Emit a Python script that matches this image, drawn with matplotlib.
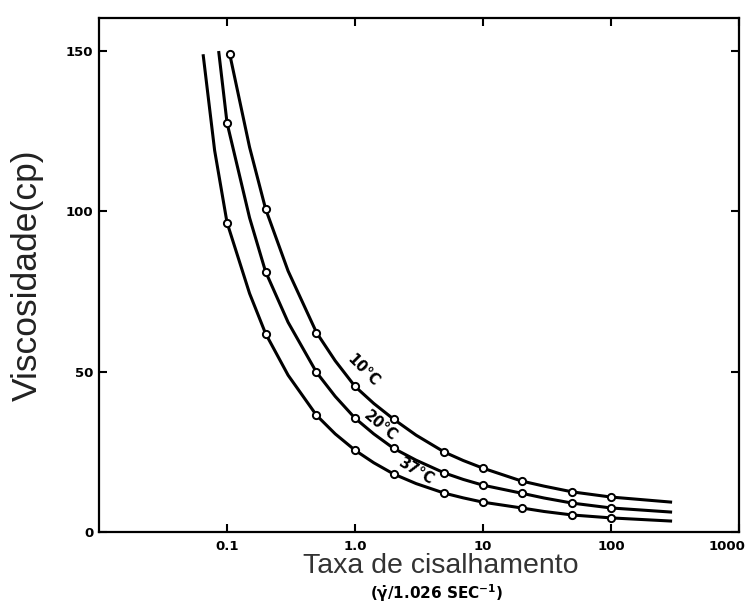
import matplotlib
matplotlib.use("Agg")
import matplotlib.pyplot as plt
from matplotlib.transforms import ScaledTranslation

# measured points (open circles)
pts_x_10 = [0.105, 0.2, 0.5, 1, 2, 5, 10, 20, 50, 100]
pts_y_10 = [149, 100.8, 62.2, 45.4, 35.2, 24.9, 19.9, 15.9, 12.5, 10.9]
pts_x_20 = [0.1, 0.2, 0.5, 1, 2, 5, 10, 20, 50, 100]
pts_y_20 = [127.6, 81.2, 49.8, 35.5, 26.1, 18.4, 14.6, 12.1, 9.0, 7.5]
pts_x_37 = [0.1, 0.2, 0.5, 1, 2, 5, 10, 20, 50, 100]
pts_y_37 = [96.5, 61.9, 36.4, 25.5, 18.1, 12.1, 9.3, 7.5, 5.3, 4.4]

# drawn curves
line_x_10 = [0.105, 0.15, 0.2, 0.3, 0.5, 0.7, 1, 1.4, 2, 3, 5, 7, 10, 20, 30, 50, 100, 300]
line_y_10 = [149, 120, 100.8, 81.4, 62.2, 53.4, 45.4, 40.1, 35.2, 30.2, 24.9, 22.3, 19.9, 15.9, 14.3, 12.5, 10.9, 9.3]
line_x_20 = [0.086, 0.1, 0.15, 0.2, 0.3, 0.5, 0.7, 1, 1.4, 2, 3, 5, 7, 10, 20, 30, 50, 100, 300]
line_y_20 = [150, 127.6, 98.0, 81.2, 65.4, 49.8, 42.3, 35.5, 30.6, 26.1, 22.4, 18.4, 16.4, 14.6, 12.1, 10.6, 9.0, 7.5, 6.2]
line_x_37 = [0.065, 0.08, 0.1, 0.15, 0.2, 0.3, 0.5, 0.7, 1, 1.4, 2, 3, 5, 7, 10, 20, 30, 50, 100, 300]
line_y_37 = [149, 119, 96.5, 74.4, 61.9, 48.9, 36.4, 30.6, 25.5, 21.6, 18.1, 15.1, 12.1, 10.65, 9.3, 7.5, 6.4, 5.3, 4.4, 3.4]

curve_labels = ["10°C", "20°C", "37°C"]
label_x = [1.16, 1.57, 3.0]
label_y = [50.4, 33.0, 19.0]
label_rot = [-45, -40, -31]

xticks = [0.1, 1, 10, 100, 1000]
xtick_labels = ["0.1", "1.0", "10", "100", "1000"]
yticks = [0, 50, 100, 150]

fig = plt.figure(figsize=(7.48, 6.06), dpi=100)
ax = fig.add_axes([0.1324, 0.1221, 0.8556, 0.8482])

for lx, ly, px, py in [(line_x_10, line_y_10, pts_x_10, pts_y_10),
                       (line_x_20, line_y_20, pts_x_20, pts_y_20),
                       (line_x_37, line_y_37, pts_x_37, pts_y_37)]:
    ax.plot(lx, ly, color="black", lw=2.2, solid_capstyle="butt")
    ax.plot(px, py, "o", ms=5.2, mfc="white", mec="black", mew=1.4)

for t, x, y, r in zip(curve_labels, label_x, label_y, label_rot):
    ax.text(x, y, t, rotation=r, ha="center", va="center",
            fontsize=10.5, fontweight="bold", rotation_mode="anchor")

ax.set_xscale("log")
ax.set_xlim(0.01, 1000)
ax.set_ylim(0, 160.3)
ax.set_xticks(xticks)
ax.set_xticklabels(xtick_labels)
ax.set_yticks(yticks)
ax.minorticks_off()

for s in ax.spines.values():
    s.set_linewidth(1.6)
ax.tick_params(direction="in", length=6, width=1.5, top=True, right=True,
               labelsize=9.5)
ax.tick_params(axis="x", pad=6)
ax.tick_params(axis="y", pad=4)
for lab in ax.get_xticklabels() + ax.get_yticklabels():
    lab.set_fontweight("bold")

# last x label sits left of the corner, as in the original
last = ax.get_xticklabels()[-1]
last.set_transform(last.get_transform() + ScaledTranslation(-12 / 100, 0, fig.dpi_scale_trans))

fig.text(0.036, 0.546, "Viscosidade(cp)", rotation=90, ha="center", va="center",
         fontsize=25.5, family="Liberation Sans", color="#222222")
fig.text(0.5896, 0.066, "Taxa de cisalhamento", ha="center", va="center",
         fontsize=20.5, family="Liberation Sans", color="#333333")
fig.text(0.584, 0.021, r"$\mathbf{(\dot{\gamma}/1.026\ SEC^{-1})}$", ha="center",
         va="center", fontsize=11)

fig.savefig("out.png", dpi=100)
